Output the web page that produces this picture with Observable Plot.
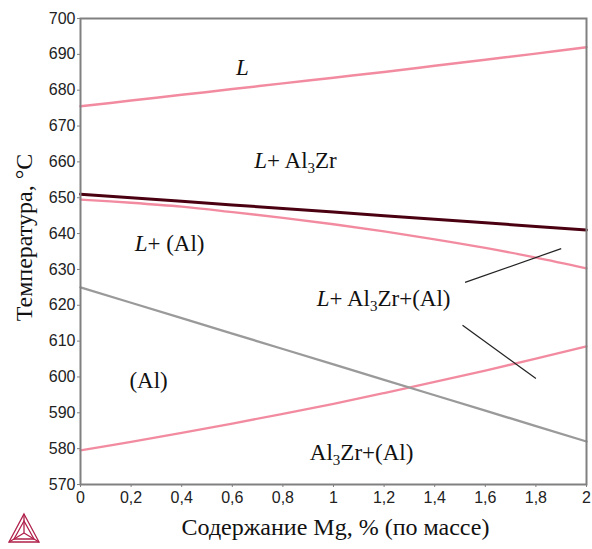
<!DOCTYPE html>
<html><head><meta charset="utf-8">
<script src="https://cdn.jsdelivr.net/npm/d3@7"></script>
<script src="https://cdn.jsdelivr.net/npm/@observablehq/plot@0.6"></script>
<style>
body{margin:0;background:#fff;}
#wrap{position:relative;width:592px;height:549px;}
#logo{position:absolute;left:7px;top:512px;}
</style></head><body>
<div id="wrap"></div>
<script>
// Mg content, mass %
const mg = [0, 0.2, 0.4, 0.6, 0.8, 1.0, 1.2, 1.4, 1.6, 1.8, 2.0];
// Phase boundary temperatures, °C
const liquidus      = [675.5, 677.1, 678.7, 680.3, 681.9, 683.5, 685.1, 686.8, 688.5, 690.2, 692.0];
const al3zrLine     = [651.0, 650.0, 649.0, 648.0, 647.0, 646.0, 645.0, 644.0, 643.0, 642.0, 641.0];
const alLiquidus    = [649.5, 648.6, 647.5, 646.0, 644.4, 642.6, 640.6, 638.4, 636.0, 633.3, 630.3];
const solvus        = [625.0, 620.7, 616.4, 612.1, 607.8, 603.5, 599.2, 594.9, 590.6, 586.3, 582.0];
const solidus       = [579.5, 581.9, 584.4, 587.0, 589.7, 592.5, 595.5, 598.6, 601.8, 605.1, 608.5];
// Leader lines for the three-phase label
const leaderX1 = [1.52, 1.51];
const leaderY1 = [626.4, 614.4];
const leaderX2 = [1.90, 1.80];
const leaderY2 = [635.8, 599.6];
// Region labels
const labelText = ["L", "L+ Al3Zr", "L+ (Al)", "L+ Al3Zr+(Al)", "(Al)", "Al3Zr+(Al)"];
const labelX = [0.64, 0.85, 0.352, 1.198, 0.269, 1.111];
const labelY = [686.3, 660.4, 637.2, 621.9, 599.0, 578.9];
// Ticks
const xTicks = [0, 0.2, 0.4, 0.6, 0.8, 1.0, 1.2, 1.4, 1.6, 1.8, 2.0];
const yTicks = [570, 580, 590, 600, 610, 620, 630, 640, 650, 660, 670, 680, 690, 700];

const mk = arr => mg.map((x, i) => ({x, y: arr[i]}));
const leaders = leaderX1.map((_, i) => ({x1: leaderX1[i], y1: leaderY1[i], x2: leaderX2[i], y2: leaderY2[i]}));
const labels = labelText.map((t, i) => ({t, x: labelX[i], y: labelY[i]}));

const pink = "#f28ba0";
const serif = "'Liberation Serif', 'Times New Roman', serif";

const chart = Plot.plot({
  width: 592, height: 549,
  marginLeft: 80, marginRight: 6, marginTop: 18, marginBottom: 65,
  style: {fontFamily: "'Liberation Sans', Arial, sans-serif", background: "#fff"},
  x: {domain: [0, 2]},
  y: {domain: [570, 700]},
  marks: [
    Plot.line(mk(liquidus), {x: "x", y: "y", stroke: pink, strokeWidth: 2.5, curve: "catmull-rom"}),
    Plot.line(mk(alLiquidus), {x: "x", y: "y", stroke: pink, strokeWidth: 2.3, curve: "catmull-rom"}),
    Plot.line(mk(solidus), {x: "x", y: "y", stroke: pink, strokeWidth: 2.3, curve: "catmull-rom"}),
    Plot.line(mk(solvus), {x: "x", y: "y", stroke: "#9a9a9a", strokeWidth: 2.3}),
    Plot.line(mk(al3zrLine), {x: "x", y: "y", stroke: "#4a0010", strokeWidth: 3}),
    Plot.link(leaders, {x1: "x1", y1: "y1", x2: "x2", y2: "y2", stroke: "#222", strokeWidth: 1.2}),
    Plot.text(labels, {x: "x", y: "y", text: "t", fontSize: 23, fontFamily: serif, fill: "#111", textAnchor: "middle", className: "region"}),
    Plot.axisX({ticks: xTicks, tickSize: 3, tickPadding: 4, fontSize: 16, label: null, stroke: "#808080", fill: "#222",
      tickFormat: d => String(+d.toFixed(1)).replace(".", ",")}),
    Plot.axisY({ticks: yTicks, tickSize: 3, tickPadding: 2, fontSize: 16, label: null, stroke: "#808080", fill: "#222"}),
    Plot.frame({stroke: "#808080", strokeWidth: 2}),
    Plot.text(["Температура, °C"], {frameAnchor: "left", textAnchor: "middle", dx: -56, dy: -14, rotate: -90, fontSize: 24, fontFamily: serif, fill: "#111"}),
    Plot.text(["Содержание Mg, % (по массе)"], {frameAnchor: "bottom", dx: 2, dy: 50, fontSize: 24, fontFamily: serif, fill: "#111"})
  ]
});
document.getElementById("wrap").appendChild(chart);

// Italic L and subscript 3 in region labels
d3.select(chart).selectAll("g.region text").each(function() {
  const el = d3.select(this);
  const s = el.text();
  el.text(null);
  let rest = s;
  if (rest.startsWith("L")) {
    el.append("tspan").attr("font-style", "italic").text("L");
    rest = rest.slice(1);
  }
  const parts = rest.split("Al3");
  parts.forEach((p, i) => {
    if (i > 0) {
      el.append("tspan").text("Al");
      el.append("tspan").attr("font-size", 15).attr("dy", 5).text("3");
      el.append("tspan").attr("dy", -5).text(p);
    } else if (p) {
      el.append("tspan").text(p);
    }
  });
});
</script>
<svg id="logo" width="34" height="32" viewBox="0 0 34 32">
  <g fill="none" stroke="#b0204a" stroke-width="1.3">
    <polygon points="17,2 32,30 2,30"/>
    <polygon points="17,9 27,27 7,27"/>
    <line x1="17" y1="2" x2="17" y2="21"/>
    <line x1="2" y1="30" x2="17" y2="21"/>
    <line x1="32" y1="30" x2="17" y2="21"/>
  </g>
</svg>
</body></html>
